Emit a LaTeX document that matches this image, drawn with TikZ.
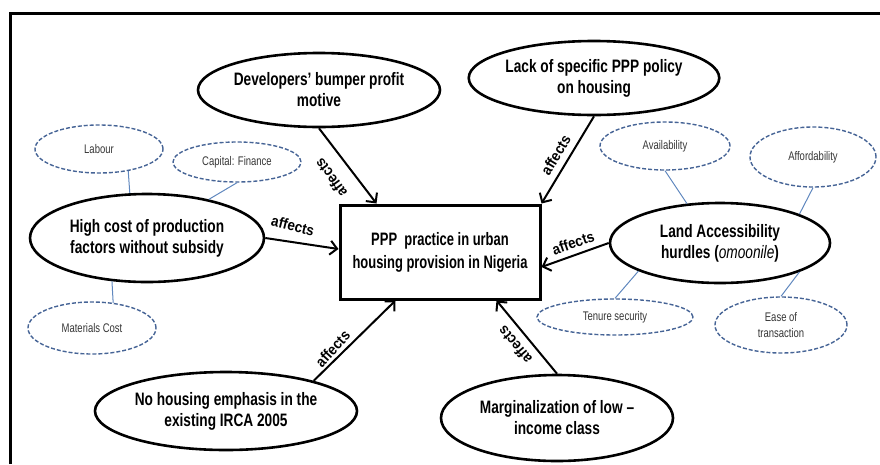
\documentclass[tikz,border=0pt]{standalone}
\usepackage{fontspec}
\newfontfamily\narrowfont[FakeStretch=0.76]{Liberation Sans}
\newfontfamily\boxfont[FakeStretch=0.72]{Liberation Sans}
\newfontfamily\plainfont[FakeStretch=0.9]{Liberation Sans}
\usetikzlibrary{arrows.meta,shapes.geometric,calc}
\definecolor{ink}{RGB}{0,0,0}
\definecolor{dashc}{RGB}{70,100,150}
\definecolor{linkc}{RGB}{95,135,190}
\definecolor{subtxt}{RGB}{55,55,55}
\tikzset{
  cause/.style={ellipse,draw=ink,line width=2.6pt,fill=white,inner sep=0pt,align=center,
    font=\narrowfont\bfseries\fontsize{18}{21}\selectfont},
  factor/.style={ellipse,draw=dashc,line width=1.4pt,dash pattern=on 4pt off 2pt,
    fill=white,inner sep=0pt,align=center,text=subtxt,
    font=\narrowfont\fontsize{12.5}{16}\selectfont},
  core/.style={draw=ink,line width=3pt,fill=white,minimum width=200pt,
    minimum height=94pt,align=center,font=\boxfont\bfseries\fontsize{18}{23}\selectfont},
  arr/.style={-{Straight Barb[length=7pt,width=14pt]},line width=2pt,ink},
  link/.style={linkc,line width=1pt},
  lbl/.style={font=\plainfont\bfseries\fontsize{15}{15}\selectfont,inner sep=0pt},
}

\begin{document}
\begin{tikzpicture}[x=1pt,y=-1pt]
\useasboundingbox (0,0) rectangle (880,464);
% ---- frame ----
\draw[line width=3pt] (10,464) -- (10,13) -- (880,13);

% ---- centre ----
\node[core] (box) at (440,252) {PPP\ \ practice in urban\\housing provision in Nigeria};

% ---- causes ----
\node[cause,minimum width=242pt,minimum height=74pt] (dev) at (319,90)
  {Developers’ bumper profit\\motive};
\node[cause,minimum width=244pt,minimum height=74pt] (lack) at (594,78)
  {Lack of specific PPP policy\\on housing};
\node[cause,minimum width=234pt,minimum height=88pt] (high) at (147,238)
  {High cost of production\\factors without subsidy};
\node[cause,minimum width=220pt,minimum height=80pt] (land) at (720,243)
  {Land Accessibility\\hurdles ({\mdseries\itshape omoonile})};
\node[cause,minimum width=262pt,minimum height=78pt] (noh) at (226,411)
  {No housing emphasis in the\\existing IRCA 2005};
\node[cause,minimum width=232pt,minimum height=86pt] (marg) at (557,418)
  {Marginalization of low –\\income class};

% ---- sub factors ----
\node[factor,minimum width=128pt,minimum height=48pt] (labour) at (99,149) {Labour};
\node[factor,minimum width=128pt,minimum height=40pt] (capital) at (237,162) {Capital: Finance};
\node[factor,minimum width=128pt,minimum height=52pt] (mat) at (92,328) {Materials Cost};
\node[factor,minimum width=130pt,minimum height=48pt] (avail) at (665,146) {Availability};
\node[factor,minimum width=126pt,minimum height=60pt] (afford) at (813,157) {Affordability};
\node[factor,minimum width=156pt,minimum height=36pt] (tenure) at (615,317) {Tenure security};
\node[factor,minimum width=132pt,minimum height=56pt] (ease) at (781,325) {Ease of\\transaction};

\draw[link] (labour.-37) -- (high.111);
\draw[link] (capital.south) -- (high.32);
\draw[link] (high.-129) -- (mat.50);
\draw[link] (avail.south) -- (land.130);
\draw[link] (afford.south) -- (land.20);
\draw[link] (tenure.north) -- (land.199);
\draw[link] (ease.north) -- (land.-20);

% ---- arrows ----
\draw[arr] (dev.south) -- ($(box.north west)+(38,0)$)
  node[lbl,midway,xshift=-17pt,yshift=-12pt,rotate=126] {affects};
\draw[arr] (lack.south) -- (box.north east)
  node[lbl,midway,xshift=-12pt,yshift=5pt,rotate=59] {affects};
\draw[arr] (high.east) -- ($(box.west)+(0,-3)$)
  node[lbl,midway,xshift=-9pt,yshift=18pt,rotate=-14] {affects};
\draw[arr] (noh.19) -- ($(box.south west)+(57,0)$)
  node[lbl,midway,xshift=-22pt,yshift=-8pt,rotate=48] {affects};
\draw[arr] (marg.north) -- ($(box.south east)+(-45,0)$)
  node[lbl,midway,xshift=-12pt,yshift=-8pt,rotate=130] {affects};
\draw[arr] (land.west) -- ($(box.east)+(0,15)$)
  node[lbl,midway,xshift=-2pt,yshift=12pt,rotate=19] {affects};
\end{tikzpicture}
\end{document}
